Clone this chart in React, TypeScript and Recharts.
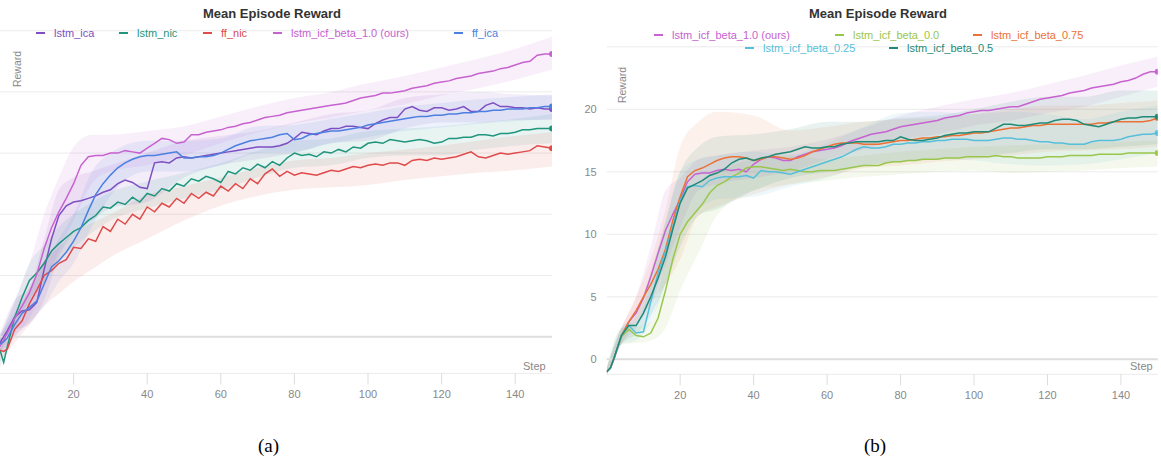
import React from "react";
import { ComposedChart, Line, Area, XAxis, YAxis, CartesianGrid, ReferenceLine } from "recharts";

// training steps sampled for the mean curves (step 1 kept for the early dip)
const STEPS = [
  0, 1, 2, 4, 6, 8, 10, 12, 14, 16,
  18, 20, 22, 24, 26, 28, 30, 32, 34, 36,
  38, 40, 42, 44, 46, 48, 50, 52, 54, 56,
  58, 60, 62, 64, 66, 68, 70, 72, 74, 76,
  78, 80, 82, 84, 86, 88, 90, 92, 94, 96,
  98, 100, 102, 104, 106, 108, 110, 112, 114, 116,
  118, 120, 122, 124, 126, 128, 130, 132, 134, 136,
  138, 140, 142, 144, 146, 148, 150,
];
// coarser steps for the shaded min/max bands
const BAND_STEPS = [0, 4, 8, 12, 16, 20, 25, 30, 40, 50, 60, 70, 80, 90, 100, 110, 120, 130, 140, 150];
const X_TICKS = [20, 40, 60, 80, 100, 120, 140];
const Y_TICKS = [0, 5, 10, 15, 20];

// ---- panel (a) ----
const A_ICA = [
  -0.5, 0.0, 0.5, 1.6, 2.1, 2.2, 2.8, 5.5, 8.0, 9.9,
  10.7, 11.0, 11.1, 11.3, 11.5, 11.8, 12.0, 12.5, 12.8, 12.6,
  12.2, 12.1, 14.2, 14.3, 14.2, 14.6, 14.7, 14.6, 14.7, 14.8,
  14.9, 15.0, 15.1, 15.2, 15.3, 15.4, 15.5, 15.5, 15.5, 15.6,
  15.8, 16.2, 16.7, 16.6, 16.5, 16.8, 17.0, 17.0, 17.2, 17.2,
  17.1, 17.0, 17.4, 17.7, 17.9, 17.9, 18.6, 18.8, 18.5, 18.4,
  18.7, 18.7, 18.5, 18.6, 18.8, 18.4, 18.4, 18.9, 19.1, 18.8,
  18.8, 18.7, 18.7, 18.6, 18.7, 18.6, 18.6,
];
const A_ICA_LO = [-1.3, 0.5, 1.0, 3.0, 6.5, 8.5, 9.5, 10.5, 11.0, 13.0, 14.0, 14.5, 15.0, 15.8, 16.0, 17.0, 17.5, 17.5, 17.7, 17.7];
const A_ICA_HI = [0.3, 3.0, 4.0, 8.0, 12.0, 13.0, 13.5, 14.0, 15.0, 16.0, 16.4, 16.8, 17.5, 18.2, 18.5, 19.5, 19.8, 20.0, 19.8, 19.7];

const A_NIC = [
  -1.1, -2.1, -0.8, 1.6, 3.2, 4.6, 5.2, 6.0, 7.0, 7.6,
  8.1, 8.6, 8.9, 9.5, 9.9, 10.6, 10.5, 11.0, 10.8, 11.4,
  11.0, 11.7, 11.5, 12.1, 11.9, 12.5, 12.3, 12.9, 12.7, 13.1,
  12.9, 12.6, 13.5, 13.3, 13.8, 13.6, 14.1, 13.8, 14.3, 14.0,
  14.6, 15.0, 14.8, 14.9, 14.7, 15.1, 15.0, 15.3, 15.1, 15.5,
  15.4, 15.8, 15.9, 15.8, 16.1, 16.0, 15.9, 16.0, 16.1, 16.0,
  15.8, 15.9, 16.2, 16.2, 16.3, 16.3, 16.5, 16.5, 16.4, 16.6,
  16.6, 16.7, 16.9, 16.9, 17.0, 17.0, 17.0,
];
const A_NIC_LO = [-2.5, 0.5, 3.0, 4.5, 6.3, 7.3, 8.5, 9.5, 10.5, 11.3, 12.0, 13.0, 13.8, 14.0, 14.6, 14.8, 14.8, 15.3, 15.6, 15.8];
const A_NIC_HI = [0.0, 2.8, 6.0, 7.5, 9.0, 10.0, 11.0, 11.8, 12.7, 13.4, 14.2, 15.2, 16.0, 16.2, 16.8, 17.0, 17.2, 17.5, 17.8, 18.2];

const A_FFNIC = [
  -1.1, -1.2, -1.0, 0.6, 1.3, 2.7, 3.8, 5.0, 5.4, 6.0,
  6.3, 7.3, 7.2, 8.0, 7.8, 9.0, 8.6, 9.6, 9.2, 10.0,
  9.6, 10.6, 10.2, 10.9, 10.6, 11.3, 10.9, 11.7, 11.3, 11.8,
  11.5, 12.3, 11.9, 12.5, 12.1, 12.9, 12.5, 13.3, 13.7, 13.1,
  13.5, 13.2, 13.4, 13.3, 13.2, 13.4, 13.6, 13.5, 13.7, 13.9,
  13.8, 14.0, 14.1, 14.0, 14.2, 14.2, 14.0, 14.4, 14.5, 14.4,
  14.6, 14.5, 14.6, 14.7, 14.9, 15.1, 14.7, 14.6, 14.8, 15.0,
  14.9, 15.0, 15.1, 15.2, 15.6, 15.5, 15.4,
];
const A_FFNIC_LO = [-2.0, -0.5, 1.0, 2.5, 3.5, 4.5, 5.5, 6.5, 8.0, 9.5, 10.7, 11.5, 12.0, 12.2, 12.4, 12.8, 13.1, 13.4, 13.6, 13.9];
const A_FFNIC_HI = [0.0, 1.8, 4.0, 6.2, 7.3, 8.5, 9.3, 10.0, 11.6, 12.3, 13.0, 13.8, 14.4, 14.6, 15.0, 15.3, 15.6, 16.0, 16.4, 16.7];

const A_ICF = [
  -0.8, -0.3, 0.3, 1.5, 2.5, 3.6, 5.1, 7.2, 8.9, 10.2,
  11.3, 12.5, 14.0, 14.7, 14.8, 14.8, 15.0, 15.0, 15.2, 15.1,
  15.0, 15.4, 15.8, 16.2, 16.1, 15.8, 15.9, 16.5, 16.5, 16.7,
  16.8, 16.9, 17.1, 17.2, 17.4, 17.5, 17.7, 17.9, 18.0, 18.1,
  18.3, 18.4, 18.5, 18.6, 18.7, 18.8, 18.9, 19.0, 19.1, 19.3,
  19.5, 19.6, 19.7, 19.9, 19.9, 20.0, 20.1, 20.3, 20.4, 20.5,
  20.7, 20.8, 20.9, 21.1, 21.2, 21.3, 21.5, 21.6, 21.7, 21.9,
  22.0, 22.2, 22.4, 22.5, 23.0, 23.1, 23.1,
];
const A_ICF_LO = [-1.5, 0.0, 1.5, 4.0, 7.0, 9.5, 12.5, 13.5, 14.0, 14.8, 15.8, 16.7, 17.4, 17.9, 18.5, 19.0, 19.7, 20.3, 21.0, 21.8];
const A_ICF_HI = [0.0, 3.0, 6.0, 10.0, 13.0, 15.5, 16.5, 16.5, 16.8, 17.2, 18.0, 18.8, 19.5, 20.0, 20.7, 21.3, 22.0, 22.7, 23.5, 24.5];

const A_FFICA = [
  -0.6, -0.4, -0.1, 1.0, 1.9, 2.4, 2.9, 4.3, 5.7, 6.2,
  6.9, 7.8, 8.9, 10.3, 11.6, 12.5, 13.2, 13.8, 14.2, 14.5,
  14.7, 14.8, 14.8, 14.9, 15.0, 15.1, 14.6, 14.6, 14.7, 14.7,
  14.8, 15.0, 15.3, 15.6, 15.8, 16.0, 16.1, 16.2, 16.3, 16.5,
  16.6, 16.1, 16.2, 16.5, 16.6, 16.7, 16.8, 16.8, 16.9, 17.0,
  17.1, 17.3, 17.4, 17.5, 17.6, 17.7, 17.8, 17.9, 18.0, 18.0,
  18.1, 18.1, 18.2, 18.2, 18.3, 18.3, 18.4, 18.4, 18.5, 18.5,
  18.6, 18.6, 18.6, 18.7, 18.7, 18.8, 18.8,
];
const A_FFICA_LO = [-1.3, 0.0, 1.2, 2.5, 4.5, 6.0, 9.0, 11.5, 13.5, 13.5, 14.0, 15.0, 15.1, 15.8, 16.3, 16.8, 17.1, 17.4, 17.6, 17.8];
const A_FFICA_HI = [0.2, 2.0, 3.6, 6.0, 8.0, 10.0, 13.5, 15.0, 16.0, 16.0, 16.2, 17.2, 17.3, 17.8, 18.3, 18.8, 19.1, 19.4, 19.6, 19.8];

// ---- panel (b) ----
const B_B10 = [
  -1.0, -0.7, 0.0, 1.8, 3.0, 3.7, 4.9, 6.6, 8.5, 10.3,
  11.6, 12.8, 14.2, 14.8, 14.9, 14.9, 15.1, 15.2, 15.1, 15.2,
  15.0, 15.6, 16.0, 16.2, 16.1, 15.9, 15.9, 16.2, 16.4, 16.6,
  16.7, 16.8, 16.9, 17.1, 17.4, 17.6, 17.8, 18.0, 18.1, 18.2,
  18.4, 18.6, 18.7, 18.8, 18.9, 19.0, 19.1, 19.3, 19.4, 19.5,
  19.7, 19.8, 19.9, 19.9, 20.0, 20.1, 20.2, 20.2, 20.4, 20.6,
  20.8, 20.9, 21.0, 21.1, 21.3, 21.4, 21.5, 21.7, 21.8, 21.9,
  22.0, 22.2, 22.3, 22.5, 22.8, 23.0, 23.0,
];
const B_B10_LO = [-1.3, 1.2, 2.5, 4.5, 7.5, 10.5, 13.5, 14.0, 14.5, 15.0, 16.0, 16.8, 17.6, 18.0, 18.7, 19.1, 19.7, 20.2, 21.0, 21.8];
const B_B10_HI = [-0.7, 2.5, 5.0, 9.0, 13.5, 14.5, 16.0, 16.3, 16.7, 17.0, 17.6, 18.5, 19.5, 20.2, 20.8, 21.3, 22.0, 22.7, 23.5, 24.2];

const B_B00 = [
  -1.0, -0.7, 0.1, 1.8, 2.4, 1.9, 1.8, 2.1, 3.3, 5.5,
  8.0, 10.0, 11.0, 11.7, 12.4, 13.3, 13.9, 14.2, 14.6, 14.9,
  15.3, 15.4, 15.4, 15.3, 15.2, 15.1, 15.2, 15.1, 15.0, 15.0,
  15.1, 15.1, 15.1, 15.2, 15.3, 15.4, 15.5, 15.5, 15.5, 15.7,
  15.8, 15.8, 15.9, 15.9, 16.0, 16.0, 16.0, 16.1, 16.1, 16.1,
  16.2, 16.2, 16.2, 16.2, 16.3, 16.2, 16.2, 16.1, 16.1, 16.1,
  16.1, 16.2, 16.2, 16.2, 16.3, 16.3, 16.3, 16.3, 16.4, 16.4,
  16.4, 16.4, 16.5, 16.5, 16.5, 16.5, 16.5,
];
const B_B00_LO = [-1.3, 1.2, 1.3, 1.5, 2.5, 5.5, 8.5, 11.5, 13.5, 14.0, 14.3, 14.6, 14.8, 15.0, 15.1, 14.9, 15.0, 15.1, 15.3, 15.4];
const B_B00_HI = [-0.7, 2.5, 2.6, 3.0, 8.0, 13.0, 14.0, 15.0, 16.0, 16.3, 16.0, 16.3, 16.6, 16.8, 17.0, 17.1, 17.2, 17.3, 17.4, 17.5];

const B_B075 = [
  -1.0, -0.7, 0.1, 1.9, 3.0, 3.9, 5.0, 6.0, 7.2, 8.8,
  11.1, 13.0, 14.6, 15.1, 15.3, 15.6, 15.9, 16.1, 16.2, 16.2,
  16.1, 15.9, 16.0, 16.2, 16.2, 16.1, 16.0, 16.1, 16.3, 16.6,
  16.8, 17.0, 17.2, 17.3, 17.3, 17.3, 17.2, 17.2, 17.2, 17.3,
  17.4, 17.5, 17.5, 17.6, 17.7, 17.7, 17.8, 17.8, 17.9, 17.9,
  18.0, 18.1, 18.1, 18.2, 18.3, 18.4, 18.5, 18.5, 18.6, 18.7,
  18.7, 18.8, 18.8, 18.8, 18.8, 18.8, 18.8, 18.8, 18.9, 18.9,
  19.0, 19.0, 19.0, 19.0, 19.0, 19.1, 19.3,
];
const B_B075_LO = [-1.3, 1.2, 3.0, 4.5, 6.0, 8.0, 11.5, 12.2, 13.2, 14.0, 14.6, 15.3, 15.5, 15.8, 16.0, 16.3, 16.6, 16.7, 16.8, 17.0];
const B_B075_HI = [-0.7, 2.5, 5.0, 8.0, 12.0, 17.0, 19.0, 19.8, 19.5, 18.3, 18.6, 19.0, 19.2, 19.3, 19.6, 20.0, 20.3, 20.3, 20.5, 20.7];

const B_B025 = [
  -1.0, -0.7, 0.1, 1.9, 2.7, 2.1, 2.2, 4.6, 6.9, 8.6,
  10.6, 12.7, 13.8, 13.9, 13.8, 14.3, 14.5, 14.6, 14.6, 14.6,
  14.7, 14.5, 15.1, 15.0, 15.0, 14.9, 14.8, 15.0, 15.2, 15.4,
  15.6, 15.8, 16.0, 16.2, 16.5, 16.8, 17.0, 16.9, 16.9, 17.0,
  17.2, 17.2, 17.3, 17.3, 17.4, 17.4, 17.5, 17.5, 17.6, 17.6,
  17.6, 17.5, 17.5, 17.5, 17.6, 17.7, 17.7, 17.6, 17.6, 17.5,
  17.4, 17.4, 17.3, 17.3, 17.2, 17.2, 17.2, 17.4, 17.5, 17.5,
  17.5, 17.6, 17.8, 17.9, 18.0, 18.0, 18.1,
];
const B_B025_LO = [-1.3, 1.2, 1.5, 3.0, 6.0, 10.0, 12.0, 12.8, 13.0, 13.8, 14.5, 15.5, 15.8, 16.0, 15.9, 15.6, 15.5, 15.6, 16.0, 16.5];
const B_B025_HI = [-0.7, 2.5, 3.0, 6.0, 11.0, 15.0, 16.0, 16.3, 16.6, 16.4, 17.3, 18.6, 19.7, 19.8, 19.6, 19.8, 19.6, 19.2, 19.8, 20.3];

const B_B05 = [
  -1.0, -0.7, 0.1, 1.9, 2.7, 2.7, 3.7, 5.0, 6.5, 8.2,
  10.4, 12.5, 13.7, 14.0, 14.3, 14.7, 14.9, 15.2, 15.7, 16.0,
  16.1, 15.9, 16.1, 16.2, 16.4, 16.5, 16.6, 16.8, 17.0, 16.9,
  16.9, 17.0, 17.0, 17.2, 17.3, 17.4, 17.4, 17.4, 17.4, 17.5,
  17.5, 17.8, 17.6, 17.5, 17.5, 17.6, 17.7, 17.9, 18.0, 18.1,
  18.1, 18.2, 18.2, 18.2, 18.5, 18.8, 18.8, 18.7, 18.7, 18.8,
  18.9, 18.9, 19.1, 19.2, 19.2, 19.1, 18.8, 18.7, 18.6, 18.8,
  19.0, 19.2, 19.3, 19.3, 19.4, 19.4, 19.4,
];
const B_B05_LO = [-1.3, 1.2, 2.0, 3.5, 6.0, 9.0, 11.5, 12.0, 13.5, 14.5, 15.0, 15.5, 15.8, 16.0, 16.2, 16.5, 16.8, 16.8, 17.0, 17.2];
const B_B05_HI = [-0.7, 2.5, 3.5, 7.0, 11.0, 15.0, 17.0, 17.8, 18.0, 18.4, 19.0, 19.0, 19.3, 19.5, 20.0, 20.6, 21.0, 21.0, 21.5, 21.5];

type Series = { name: string; color: string; values: number[]; lo: number[]; hi: number[] };

const PANEL_A: Series[] = [
  { name: "lstm_ica", color: "#7e4fc2", values: A_ICA, lo: A_ICA_LO, hi: A_ICA_HI },
  { name: "lstm_nic", color: "#1f957d", values: A_NIC, lo: A_NIC_LO, hi: A_NIC_HI },
  { name: "ff_nic", color: "#df4a4a", values: A_FFNIC, lo: A_FFNIC_LO, hi: A_FFNIC_HI },
  { name: "lstm_icf_beta_1.0 (ours)", color: "#c762d0", values: A_ICF, lo: A_ICF_LO, hi: A_ICF_HI },
  { name: "ff_ica", color: "#4c7fe0", values: A_FFICA, lo: A_FFICA_LO, hi: A_FFICA_HI },
];

const PANEL_B: Series[] = [
  { name: "lstm_icf_beta_1.0 (ours)", color: "#c762d0", values: B_B10, lo: B_B10_LO, hi: B_B10_HI },
  { name: "lstm_icf_beta_0.0", color: "#99c64c", values: B_B00, lo: B_B00_LO, hi: B_B00_HI },
  { name: "lstm_icf_beta_0.75", color: "#ec7136", values: B_B075, lo: B_B075_LO, hi: B_B075_HI },
  { name: "lstm_icf_beta_0.25", color: "#56bfdb", values: B_B025, lo: B_B025_LO, hi: B_B025_HI },
  { name: "lstm_icf_beta_0.5", color: "#1f8a77", values: B_B05, lo: B_B05_LO, hi: B_B05_HI },
];

const FONT = "'Liberation Sans', Arial, sans-serif";
const GREY = "#888";

const lineData = (vals: number[]) => STEPS.map((step, i) => ({ step, value: vals[i] }));
const bandData = (lo: number[], hi: number[]) =>
  BAND_STEPS.map((step, i) => ({ step, range: [lo[i], hi[i]] }));

const endDot = (color: string) => (p: any) =>
  p.index === STEPS.length - 1 ? (
    <circle key={`end-${p.index}`} cx={p.cx} cy={p.cy} r={3} fill={color} stroke="none" />
  ) : (
    <g key={`d-${p.index}`} />
  );

function Panel({
  series,
  width,
  top,
  right,
  xAxisHeight,
  showY,
}: {
  series: Series[];
  width: number;
  top: number;
  right: number;
  xAxisHeight: number;
  showY: boolean;
}) {
  return (
    <ComposedChart width={width} height={400} margin={{ top, right, left: 0, bottom: 0 }}>
      <CartesianGrid vertical={false} stroke="#ececec" />
      <XAxis
        type="number"
        dataKey="step"
        domain={[0, 150]}
        ticks={X_TICKS}
        allowDataOverflow
        height={xAxisHeight}
        axisLine={false}
        tickLine={{ stroke: "#dddddd" }}
        tickSize={11}
        tickMargin={6}
        tick={{ fontSize: 11, fill: GREY, fontFamily: FONT }}
      />
      <YAxis
        type="number"
        domain={showY ? [-1.2, 25] : [-3, 25]}
        ticks={Y_TICKS}
        allowDataOverflow
        hide={!showY}
        width={showY ? 46.7 : 0}
        axisLine={false}
        tickLine={false}
        tickMargin={4}
        tick={{ fontSize: 11, fill: GREY, fontFamily: FONT }}
      />
      <ReferenceLine y={0} stroke="#dedede" strokeWidth={2} />
      {series.map((s) => (
        <Area
          key={`band-${s.name}`}
          data={bandData(s.lo, s.hi)}
          dataKey="range"
          type="monotone"
          stroke="none"
          fill={s.color}
          fillOpacity={0.1}
          isAnimationActive={false}
        />
      ))}
      {series.map((s) => (
        <Line
          key={`line-${s.name}`}
          data={lineData(s.values)}
          dataKey="value"
          type="linear"
          stroke={s.color}
          strokeWidth={1.5}
          dot={endDot(s.color)}
          activeDot={false}
          isAnimationActive={false}
        />
      ))}
    </ComposedChart>
  );
}

type LegendPos = { name: string; color: string; x: number; y: number };

const LEGEND_A: LegendPos[] = [
  { name: "lstm_ica", color: "#7e4fc2", x: 36, y: 33 },
  { name: "lstm_nic", color: "#1f957d", x: 119, y: 33 },
  { name: "ff_nic", color: "#df4a4a", x: 203, y: 33 },
  { name: "lstm_icf_beta_1.0 (ours)", color: "#c762d0", x: 273, y: 33 },
  { name: "ff_ica", color: "#4c7fe0", x: 454, y: 33 },
];
const LEGEND_B: LegendPos[] = [
  { name: "lstm_icf_beta_1.0 (ours)", color: "#c762d0", x: 654, y: 35 },
  { name: "lstm_icf_beta_0.0", color: "#99c64c", x: 835, y: 35 },
  { name: "lstm_icf_beta_0.75", color: "#ec7136", x: 973, y: 35 },
  { name: "lstm_icf_beta_0.25", color: "#56bfdb", x: 745, y: 48 },
  { name: "lstm_icf_beta_0.5", color: "#1f8a77", x: 889, y: 48 },
];

function LegendItems({ items }: { items: LegendPos[] }) {
  return (
    <>
      {items.map((it) => (
        <div
          key={it.name + it.x}
          style={{
            position: "absolute",
            left: it.x,
            top: it.y - 7,
            height: 14,
            display: "flex",
            alignItems: "center",
            fontFamily: FONT,
            fontSize: 11,
            color: it.color,
            whiteSpace: "nowrap",
          }}
        >
          <span style={{ display: "inline-block", width: 9, height: 2.5, background: it.color, marginRight: 9 }} />
          {it.name}
        </div>
      ))}
    </>
  );
}

const abs = (left: number, top: number, extra: React.CSSProperties = {}): React.CSSProperties => ({
  position: "absolute",
  left,
  top,
  whiteSpace: "nowrap",
  ...extra,
});

const yLabel = (left: number, top: number): React.CSSProperties =>
  abs(left, top, {
    width: 40,
    height: 12,
    lineHeight: "12px",
    textAlign: "center",
    fontFamily: FONT,
    fontSize: 10.5,
    color: GREY,
    transform: "rotate(-90deg)",
  });

export default function App() {
  return (
    <div style={{ position: "absolute", left: 0, top: 0, width: 1161, height: 458, background: "#fff", overflow: "hidden" }}>
      <div style={abs(0, 0)}>
        <Panel series={PANEL_A} width={560} top={30.7} right={8} xAxisHeight={26.6} showY={false} />
      </div>
      <div style={abs(560, 0)}>
        <Panel series={PANEL_B} width={601} top={46.8} right={3.3} xAxisHeight={25.7} showY={true} />
      </div>

      <div style={abs(172, 6, { width: 200, textAlign: "center", fontFamily: FONT, fontWeight: "bold", fontSize: 13, color: "#333" })}>
        Mean Episode Reward
      </div>
      <div style={abs(778, 6, { width: 200, textAlign: "center", fontFamily: FONT, fontWeight: "bold", fontSize: 13, color: "#333" })}>
        Mean Episode Reward
      </div>

      <LegendItems items={LEGEND_A} />
      <LegendItems items={LEGEND_B} />

      <div style={yLabel(-3.5, 63)}>Reward</div>
      <div style={yLabel(602, 79)}>Reward</div>

      <div style={abs(523, 360, { fontFamily: FONT, fontSize: 11, color: GREY })}>Step</div>
      <div style={abs(1130, 360, { fontFamily: FONT, fontSize: 11, color: GREY })}>Step</div>

      <div style={abs(258, 435, { fontFamily: "'Liberation Serif', 'Times New Roman', serif", fontSize: 19, color: "#000" })}>(a)</div>
      <div style={abs(864, 435, { fontFamily: "'Liberation Serif', 'Times New Roman', serif", fontSize: 19, color: "#000" })}>(b)</div>
    </div>
  );
}
